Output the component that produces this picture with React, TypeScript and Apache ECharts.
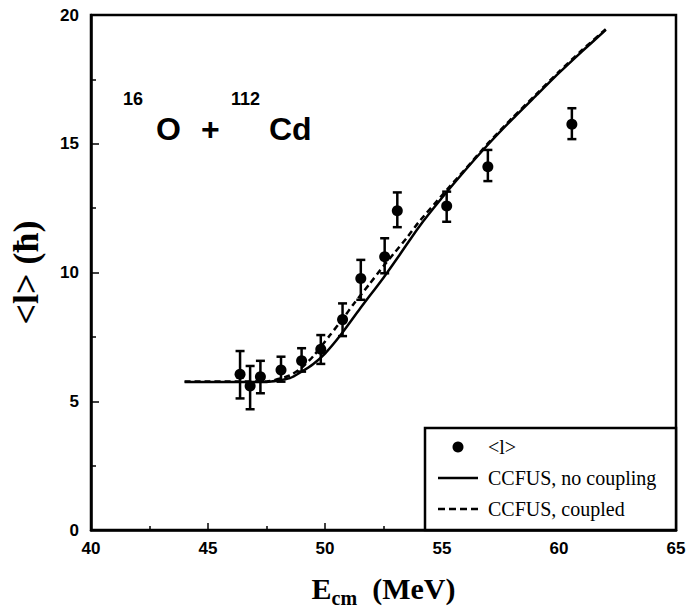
import React, { useEffect, useRef } from "react";
import * as echarts from "echarts";

// Measured <l> values (E_cm in MeV, <l> in hbar) with error-bar limits
const energy = [46.37, 46.8, 47.24, 48.12, 49.0, 49.82, 50.75, 51.53, 52.55, 53.09, 55.2, 56.96, 60.55];
const meanL = [6.05, 5.59, 5.95, 6.21, 6.57, 7.02, 8.17, 9.77, 10.61, 12.4, 12.58, 14.11, 15.76];
const errLow = [5.11, 4.69, 5.31, 5.76, 6.15, 6.45, 7.53, 8.94, 9.97, 11.76, 11.97, 13.55, 15.18];
const errHigh = [6.95, 6.37, 6.57, 6.73, 7.06, 7.57, 8.8, 10.49, 11.33, 13.11, 13.14, 14.76, 16.38];

// CCFUS, no coupling
const noCouplingE = [44.0, 47.5, 48.5, 49.0, 49.5, 50.0, 50.65, 51.5, 52.5, 53.2, 54.0, 55.0, 56.0, 57.0, 58.0, 59.0, 60.0, 61.0, 62.0];
const noCouplingL = [5.75, 5.75, 5.9, 6.15, 6.45, 6.85, 7.55, 8.6, 9.8, 10.7, 11.75, 12.9, 13.98, 15.0, 15.95, 16.85, 17.75, 18.6, 19.42];

// CCFUS, coupled
const coupledE = [44.0, 47.5, 48.5, 49.0, 49.5, 50.2, 50.8, 51.2, 51.9, 52.5, 53.0, 53.5, 54.0, 55.0, 56.0, 57.0, 58.0, 59.0, 60.0, 61.0, 62.0];
const coupledL = [5.77, 5.77, 6.0, 6.3, 6.75, 7.55, 8.25, 8.75, 9.55, 10.25, 10.8, 11.35, 11.95, 13.0, 14.02, 15.05, 16.0, 16.9, 17.8, 18.65, 19.45];

const seriesNames = ["<l>", "CCFUS, no coupling", "CCFUS, coupled"];

const xMin = 40;
const xMax = 65;
const xStep = 5;
const yMin = 0;
const yMax = 20;
const yStep = 5;

export default function App() {
  const ref = useRef<HTMLDivElement>(null);

  useEffect(() => {
    if (!ref.current) return;
    const chart = echarts.init(ref.current, null, { renderer: "svg" });

    const pts = energy.map((e, i) => [e, meanL[i]]);
    const errs = energy.map((e, i) => [e, errLow[i], errHigh[i]]);
    const solid = noCouplingE.map((e, i) => [e, noCouplingL[i]]);
    const dashed = coupledE.map((e, i) => [e, coupledL[i]]);

    const option: any = {
      animation: false,
      backgroundColor: "#fff",
      grid: {
        left: 89.5,
        right: 15,
        top: 15,
        bottom: 84,
        show: true,
        borderColor: "#000",
        borderWidth: 2.5,
        backgroundColor: "transparent",
      },
      xAxis: {
        type: "value",
        min: xMin,
        max: xMax,
        interval: xStep,
        name: "{e|E}{s|cm}{e|  (MeV)}",
        nameLocation: "middle",
        nameGap: 38,
        nameTextStyle: {
          rich: {
            e: { fontFamily: "Liberation Serif", fontWeight: "bold", fontSize: 30, color: "#000", lineHeight: 40, verticalAlign: "middle" },
            s: { fontFamily: "Liberation Serif", fontWeight: "bold", fontSize: 20, color: "#000", lineHeight: 40, verticalAlign: "bottom" },
          },
        },
        axisLine: { show: true, lineStyle: { color: "#000", width: 2.5 } },
        axisTick: { show: true, inside: true, length: 7, lineStyle: { color: "#000", width: 1.5 } },
        minorTick: { show: true, splitNumber: 2, length: 4, lineStyle: { color: "#000", width: 1.5 } },
        splitLine: { show: false },
        axisLabel: {
          margin: 10,
          color: "#000",
          fontFamily: "Liberation Sans",
          fontWeight: "bold",
          fontSize: 17,
        },
      },
      yAxis: {
        type: "value",
        min: yMin,
        max: yMax,
        interval: yStep,
        name: "<l> (ħ)",
        nameLocation: "middle",
        nameGap: 47,
        nameRotate: 90,
        nameTextStyle: {
          fontFamily: "Liberation Serif",
          fontWeight: "bold",
          fontSize: 36,
          color: "#000",
        },
        axisLine: { show: true, lineStyle: { color: "#000", width: 2.5 } },
        axisTick: { show: true, inside: true, length: 8, lineStyle: { color: "#000", width: 1.5 } },
        minorTick: { show: true, splitNumber: 2, length: 5, lineStyle: { color: "#000", width: 1.5 } },
        splitLine: { show: false },
        axisLabel: {
          margin: 12,
          color: "#000",
          fontFamily: "Liberation Sans",
          fontWeight: "bold",
          fontSize: 17,
        },
      },
      legend: {
        data: [
          { name: seriesNames[0], icon: "circle" },
          { name: seriesNames[1], icon: "path://M0,0H40V2.5H0Z" },
          { name: seriesNames[2], icon: "path://M0,0H7V2.5H0Z M11,0H18V2.5H11Z M22,0H29V2.5H22Z M33,0H40V2.5H33Z" },
        ],
        orient: "vertical",
        left: 438,
        top: 437,
        padding: 0,
        itemWidth: 40,
        itemHeight: 11,
        itemGap: 11,
        z: 10,
        selectedMode: false,
        itemStyle: { color: "#000", borderWidth: 0 },
        textStyle: {
          fontFamily: "Liberation Serif",
          fontSize: 20,
          color: "#000",
          lineHeight: 20,
          padding: [0, 0, 0, 5],
        },
      },
      graphic: [
        {
          type: "rect",
          z: 5,
          shape: { x: 425, y: 428, width: 251, height: 102 },
          style: { fill: "#fff", stroke: "#000", lineWidth: 2.5 },
        },
        {
          type: "text",
          z: 5,
          x: 123,
          y: 99,
          style: { text: "16", fontFamily: "Liberation Sans", fontWeight: "bold", fontSize: 18, fill: "#000", verticalAlign: "middle" },
        },
        {
          type: "text",
          z: 5,
          x: 156,
          y: 129,
          style: { text: "O", fontFamily: "Liberation Sans", fontWeight: "bold", fontSize: 32, fill: "#000", verticalAlign: "middle" },
        },
        {
          type: "text",
          z: 5,
          x: 201,
          y: 129,
          style: { text: "+", fontFamily: "Liberation Sans", fontWeight: "bold", fontSize: 32, fill: "#000", verticalAlign: "middle" },
        },
        {
          type: "text",
          z: 5,
          x: 231,
          y: 99,
          style: { text: "112", fontFamily: "Liberation Sans", fontWeight: "bold", fontSize: 18, fill: "#000", verticalAlign: "middle" },
        },
        {
          type: "text",
          z: 5,
          x: 269,
          y: 129,
          style: { text: "Cd", fontFamily: "Liberation Sans", fontWeight: "bold", fontSize: 32, fill: "#000", verticalAlign: "middle" },
        },
      ],
      series: [
        {
          name: seriesNames[0],
          type: "scatter",
          data: pts,
          symbol: "circle",
          symbolSize: 11,
          itemStyle: { color: "#000", opacity: 1 },
          z: 4,
        },
        {
          name: "errors",
          type: "custom",
          data: errs,
          z: 3,
          renderItem: (params: any, api: any) => {
            const x = api.value(0);
            const lo = api.coord([x, api.value(1)]);
            const hi = api.coord([x, api.value(2)]);
            const cap = 4.5;
            const style = { stroke: "#000", lineWidth: 2.5 };
            return {
              type: "group",
              children: [
                { type: "line", shape: { x1: lo[0], y1: lo[1], x2: hi[0], y2: hi[1] }, style },
                { type: "line", shape: { x1: lo[0] - cap, y1: lo[1], x2: lo[0] + cap, y2: lo[1] }, style },
                { type: "line", shape: { x1: hi[0] - cap, y1: hi[1], x2: hi[0] + cap, y2: hi[1] }, style },
              ],
            };
          },
        },
        {
          name: seriesNames[1],
          type: "line",
          data: solid,
          symbol: "none",
          smooth: 0.2,
          lineStyle: { color: "#000", width: 2.5, type: "solid" },
          itemStyle: { color: "#000" },
          z: 2,
        },
        {
          name: seriesNames[2],
          type: "line",
          data: dashed,
          symbol: "none",
          smooth: 0.2,
          lineStyle: { color: "#000", width: 2.5, type: [6, 4] },
          itemStyle: { color: "#000" },
          z: 2,
        },
      ],
    };

    chart.setOption(option);
    return () => {
      chart.dispose();
    };
  }, []);

  return <div ref={ref} style={{ width: 691, height: 614, position: "absolute", left: 0, top: 0 }} />;
}
